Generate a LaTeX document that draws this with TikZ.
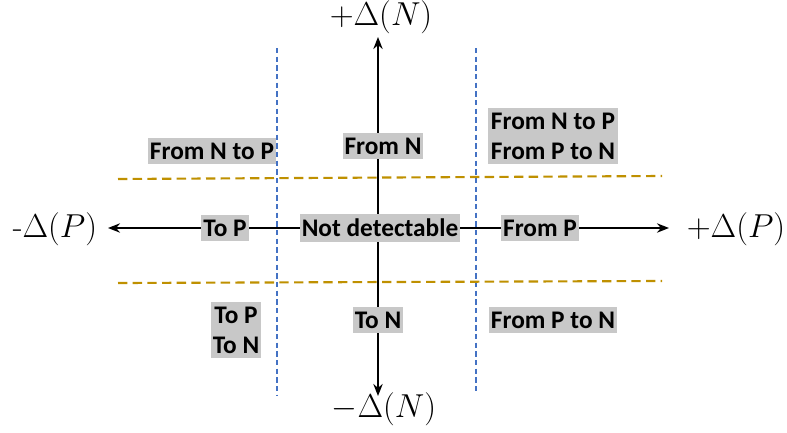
\documentclass[tikz,border=0pt]{standalone}
\usepackage{fontspec}
\usetikzlibrary{arrows.meta}
\newfontfamily\boxfont{Carlito}
\definecolor{boxgrey}{HTML}{C8C8C8}
\definecolor{dashblue}{HTML}{4472C4}
\definecolor{dashgold}{HTML}{BF9000}
\tikzset{
  lbl/.style={fill=boxgrey, font=\boxfont\bfseries\fontsize{19}{22.5}\selectfont, inner xsep=1.5pt, inner ysep=3.5pt, text=black},
  axis/.style={line width=2pt, -{Stealth[length=9pt,width=7pt]}},
  vdash/.style={dashblue, line width=1.5pt, dash pattern=on 4pt off 2.5pt},
  hdash/.style={dashgold, line width=1.6pt, dash pattern=on 7pt off 4pt},
  mathlbl/.style={font=\fontsize{24}{28}\selectfont, inner sep=0pt}
}
\begin{document}
\begin{tikzpicture}[x=0.75pt,y=-0.75pt]
\useasboundingbox (0,0) rectangle (787,432);
% dashed guides
\coordinate (b1t) at (277,48); \coordinate (b1b) at (277,395);
\coordinate (b2t) at (476,48); \coordinate (b2b) at (476,392);
\coordinate (g1l) at (118,179); \coordinate (g1r) at (662,176);
\coordinate (g2l) at (118,283); \coordinate (g2r) at (662,281);
\draw[vdash] (b1t) -- (b1b);
\draw[vdash] (b2t) -- (b2b);
\draw[hdash] (g1l) -- (g1r);
\draw[hdash] (g2l) -- (g2r);
% axes
\coordinate (c) at (378,228);
\coordinate (xl) at (108,228); \coordinate (xr) at (669,228);
\coordinate (yt) at (378,37); \coordinate (yb) at (378,396);
\draw[axis] (c) -- (xl);
\draw[axis] (c) -- (xr);
\draw[axis] (c) -- (yt);
\draw[axis] (c) -- (yb);
% axis labels
\node[mathlbl] (pn) at (381,17) {$+\Delta(N)$};
\node[mathlbl] (mn) at (384,409) {$-\Delta(N)$};
\node[mathlbl] (mp) at (55,229) {-$\Delta(P)$};
\node[mathlbl] (pp) at (736,229) {$+\Delta(P)$};
% boxes
\node[lbl] (a1) at (212,151) {From N to P};
\node[lbl] (a2) at (383,146) {From N};
\node[lbl, align=left, inner xsep=2pt] (a3) at (553,136) {From N to P\\From P to N};
\node[lbl] (b1) at (225,228) {To P};
\node[lbl] (b2) at (380,228) {Not detectable};
\node[lbl] (b3) at (540,228) {From P};
\node[lbl, align=center] (c1) at (236,330) {To P\\To N};
\node[lbl] (c2) at (378,320) {To N};
\node[lbl] (c3) at (553,320) {From P to N};
\end{tikzpicture}
\end{document}
